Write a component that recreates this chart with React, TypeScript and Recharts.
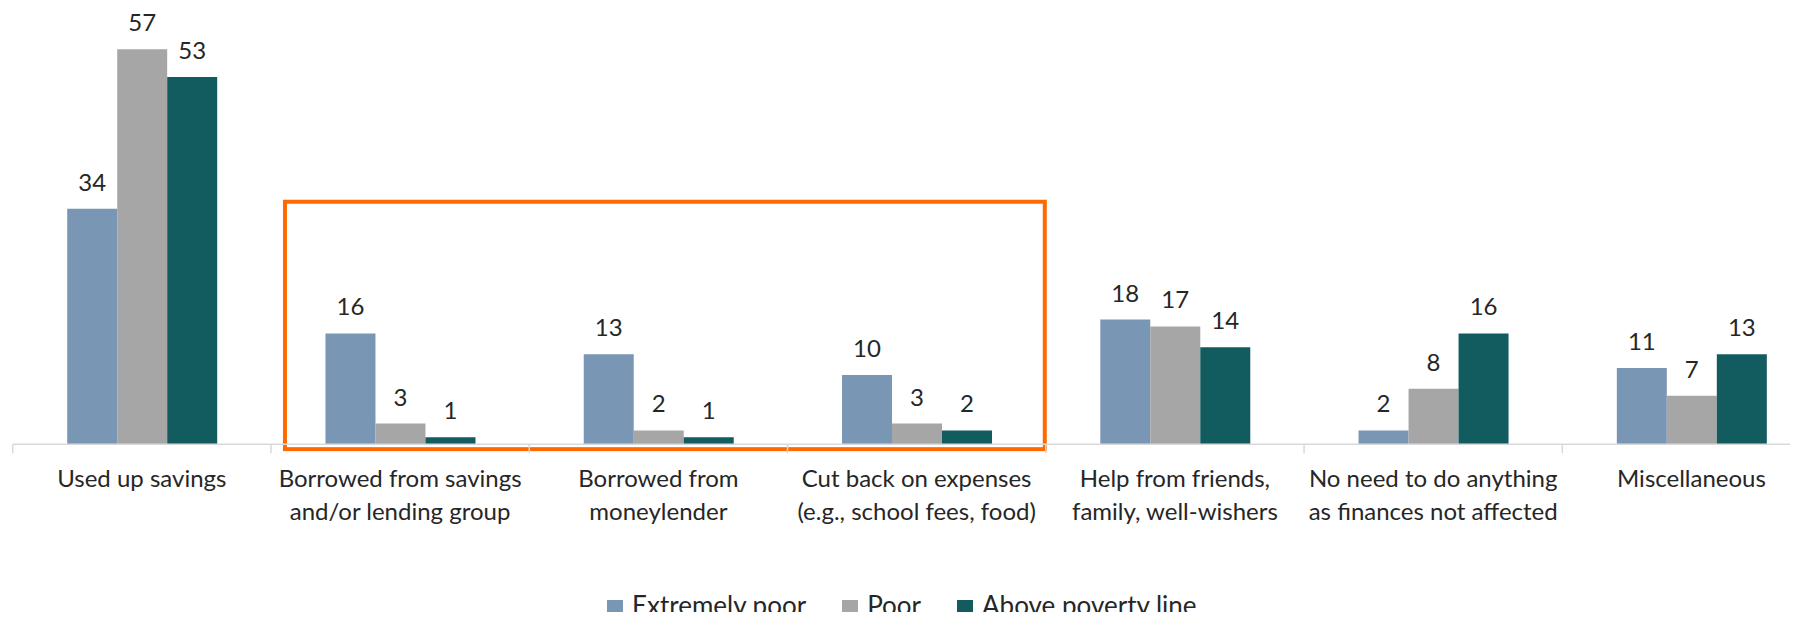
import React from 'react';
import { BarChart, Bar, XAxis, YAxis, LabelList, Legend, ReferenceArea } from 'recharts';

const categories = [
  'Used up savings',
  'Borrowed from savings\nand/or lending group',
  'Borrowed from\nmoneylender',
  'Cut back on expenses\n(e.g., school fees, food)',
  'Help from friends,\nfamily, well-wishers',
  'No need to do anything\nas finances not affected',
  'Miscellaneous',
];
const extremelyPoor = [34, 16, 13, 10, 18, 2, 11];
const poor = [57, 3, 2, 3, 17, 8, 7];
const abovePovertyLine = [53, 1, 1, 2, 14, 16, 13];

const seriesNames = ['Extremely poor', 'Poor', 'Above poverty line'];
const seriesColors = ['#7a96b5', '#a6a6a6', '#125c60'];

// highlighted group: from the 2nd to the 4th category
const frameFrom = 1;
const frameTo = 3;
const frameTop = 35;
const frameBottom = -0.7;

const data = categories.map((name, i) => ({
  name,
  extremelyPoor: extremelyPoor[i],
  poor: poor[i],
  above: abovePovertyLine[i],
}));
const keys = ['extremelyPoor', 'poor', 'above'];

const FONT = 'Lato, "Open Sans", sans-serif';
const TEXT = '#262626';

const CategoryTick = (props: any) => {
  const { x, y, payload } = props;
  const lines = String(payload.value).split('\n');
  const left = x - (payload.offset || 0);
  return (
    <g>
      <line x1={left} y1={y} x2={left} y2={y + 9} stroke="#d9d9d9" strokeWidth={1.5} />
      <text x={x} y={y + 43} textAnchor="middle" fill={TEXT} fontSize={24} fontFamily={FONT}>
        {lines.map((l, i) => (
          <tspan key={i} x={x} dy={i === 0 ? 0 : 33}>
            {l}
          </tspan>
        ))}
      </text>
    </g>
  );
};

const Frame = (props: any) => {
  const { x, y, width, height } = props;
  return (
    <rect x={x + 14} y={y} width={width - 15} height={height} fill="none" stroke="#ff6a00" strokeWidth={4} />
  );
};

const LegendContent = () => (
  <div style={{ display: 'flex', fontFamily: FONT, fontSize: 26, color: TEXT, lineHeight: 'normal', whiteSpace: 'nowrap' }}>
    {seriesNames.map((n, i) => (
      <span key={n} style={{ marginRight: 36 }}>
        <span style={{ display: 'inline-block', width: 16, height: 15, background: seriesColors[i], marginRight: 9 }} />
        {n}
      </span>
    ))}
  </div>
);

export default function App() {
  return (
    <div style={{ margin: -8, width: 1798, height: 620, overflow: 'hidden', position: 'relative', background: '#fff' }}>
      <BarChart
        width={1830}
        height={620}
        data={data}
        margin={{ top: 28.5, right: 9.4, left: 12.7, bottom: 115.7 }}
        barCategoryGap="21.1%"
        barGap={0}
      >
        <XAxis
          dataKey="name"
          interval={0}
          height={60}
          tickSize={0}
          tickMargin={0}
          tickLine={false}
          axisLine={{ stroke: '#d9d9d9', strokeWidth: 1.5 }}
          tick={<CategoryTick />}
        />
        <YAxis hide domain={[0, 60]} />
        {keys.map((k, i) => (
          <Bar key={k} dataKey={k} name={seriesNames[i]} fill={seriesColors[i]} isAnimationActive={false}>
            <LabelList dataKey={k} position="top" offset={18} fill={TEXT} fontSize={24} fontFamily={FONT} />
          </Bar>
        ))}
        <ReferenceArea
          x1={categories[frameFrom]}
          x2={categories[frameTo]}
          y1={frameBottom}
          y2={frameTop}
          ifOverflow="visible"
          shape={<Frame />}
        />
        <Legend
          layout="horizontal"
          verticalAlign="middle"
          align="center"
          content={<LegendContent />}
          wrapperStyle={{ top: 589, left: 607, width: 'auto', height: 'auto' }}
        />
      </BarChart>
    </div>
  );
}
